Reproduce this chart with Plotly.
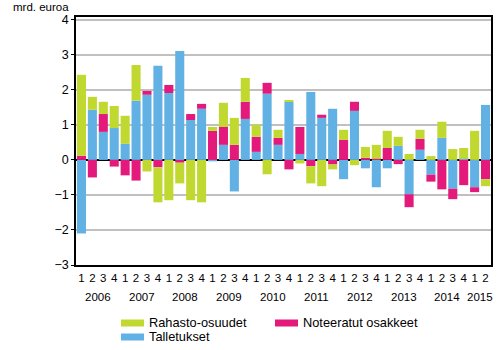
import plotly.graph_objects as go

years = ["2006", "2007", "2008", "2009", "2010", "2011", "2012", "2013", "2014", "2015"]
quarters = ["1", "2", "3", "4"] * 9 + ["1", "2"]

talletukset = [-2.10, 1.43, 0.80, 0.91, 0.46, 1.69, 1.86, 2.69, 1.91, 3.11, 1.14, 1.46,
               -0.04, 0.43, -0.90, 1.17, 0.23, 1.89, 0.43, 1.66, 0.17, 1.94, 1.20, 1.46,
               -0.55, 1.40, -0.24, -0.78, -0.24, 0.40, -0.98, 0.29, -0.42, 0.63, -0.82, 0.03,
               -0.78, 1.57]
noteeratut = [0.12, -0.50, 0.51, -0.19, -0.44, -0.59, 0.11, -0.21, 0.23, -0.08, 0.17, 0.14,
              0.83, 0.51, 0.43, 0.49, 0.43, 0.31, 0.20, -0.27, 0.77, -0.18, 0.09, -0.13,
              0.57, 0.26, 0.06, 0.03, 0.34, -0.12, -0.37, 0.31, -0.20, -0.84, -0.30, -0.72,
              -0.14, -0.55]
rahasto = [2.31, 0.37, 0.35, 0.63, 0.80, 1.02, -0.33, -1.00, -1.15, -0.59, -1.15, -1.21,
           0.11, 0.69, 0.77, 0.68, 0.34, -0.41, 0.23, 0.03, -0.10, -0.49, -0.75, -0.14,
           0.29, -0.15, 0.31, 0.40, 0.49, 0.26, 0.17, 0.26, 0.11, 0.46, 0.31, 0.31,
           0.83, -0.20]

series_names = ["Talletukset", "Noteeratut osakkeet", "Rahasto-osuudet"]
series_colors = ["#62B1E4", "#E31A7B", "#C0D830"]
series_values = [talletukset, noteeratut, rahasto]

x = list(range(len(quarters)))
font = "Liberation Sans, Arial, sans-serif"

W, H = 500, 350
ML, MR, MT, MB = 76, 9, 17, 85
PW, PH = W - ML - MR, H - MT - MB


def px_x(p):
    return (p - ML) / PW


def px_y(p):
    return (H - MB - p) / PH


fig = go.Figure()
for name, color, vals in zip(series_names, series_colors, series_values):
    fig.add_trace(go.Bar(x=x, y=vals, name=name, marker_color=color,
                         marker_line_width=0, showlegend=False))

for i, yr in enumerate(years):
    qs = [j for j in range(len(quarters)) if j // 4 == i]
    cx = (qs[0] + qs[-1]) / 2
    fig.add_annotation(x=cx, y=0, xref="x", yref="paper", text=yr, showarrow=False,
                       yanchor="middle", yshift=-32,
                       font=dict(size=11.5, color="black", family=font))

fig.add_annotation(x=px_x(71), y=px_y(6.5), xref="paper", yref="paper", text="mrd. euroa",
                   showarrow=False, xanchor="right", yanchor="middle",
                   font=dict(size=11.5, color="black", family=font))

# manual legend (order as in reference)
legend_items = [("Rahasto-osuudet", "#C0D830", 121, 323),
                ("Noteeratut osakkeet", "#E31A7B", 275, 323),
                ("Talletukset", "#62B1E4", 121, 337)]
for label, color, lx, ly in legend_items:
    fig.add_shape(type="rect", xref="paper", yref="paper",
                  x0=px_x(lx), x1=px_x(lx + 23), y0=px_y(ly + 3.5), y1=px_y(ly - 3.5),
                  fillcolor=color, line_width=0)
    fig.add_annotation(x=px_x(lx + 26), y=px_y(ly - 0.5), xref="paper", yref="paper",
                       text=label, showarrow=False, xanchor="left", yanchor="middle",
                       font=dict(size=12.8, color="black", family=font))

fig.update_layout(
    width=W, height=H,
    margin=dict(l=ML, r=MR, t=MT, b=MB, autoexpand=False),
    barmode="relative", bargap=0.17,
    plot_bgcolor="white", paper_bgcolor="white",
    font=dict(family=font, size=12, color="black"),
    showlegend=False,
    xaxis=dict(range=[-0.5, len(quarters) - 0.5], tickmode="array", tickvals=x,
               ticktext=quarters, showgrid=False, showline=True, linecolor="black",
               linewidth=1.5, mirror=True, ticks="", tickfont=dict(size=11.5),
               ticklabelstandoff=1, zeroline=False),
    yaxis=dict(range=[-3, 4.08], tickvals=[-3, -2, -1, 0, 1, 2, 3, 4], showgrid=True,
               gridcolor="#C0C0C0", gridwidth=1.5, showline=True, linecolor="black",
               linewidth=1.5, mirror=True, ticks="outside", ticklen=3, tickcolor="black",
               zeroline=True, zerolinecolor="black", zerolinewidth=1.5,
               tickfont=dict(size=12.5)),
)

fig.write_html("out.html")
